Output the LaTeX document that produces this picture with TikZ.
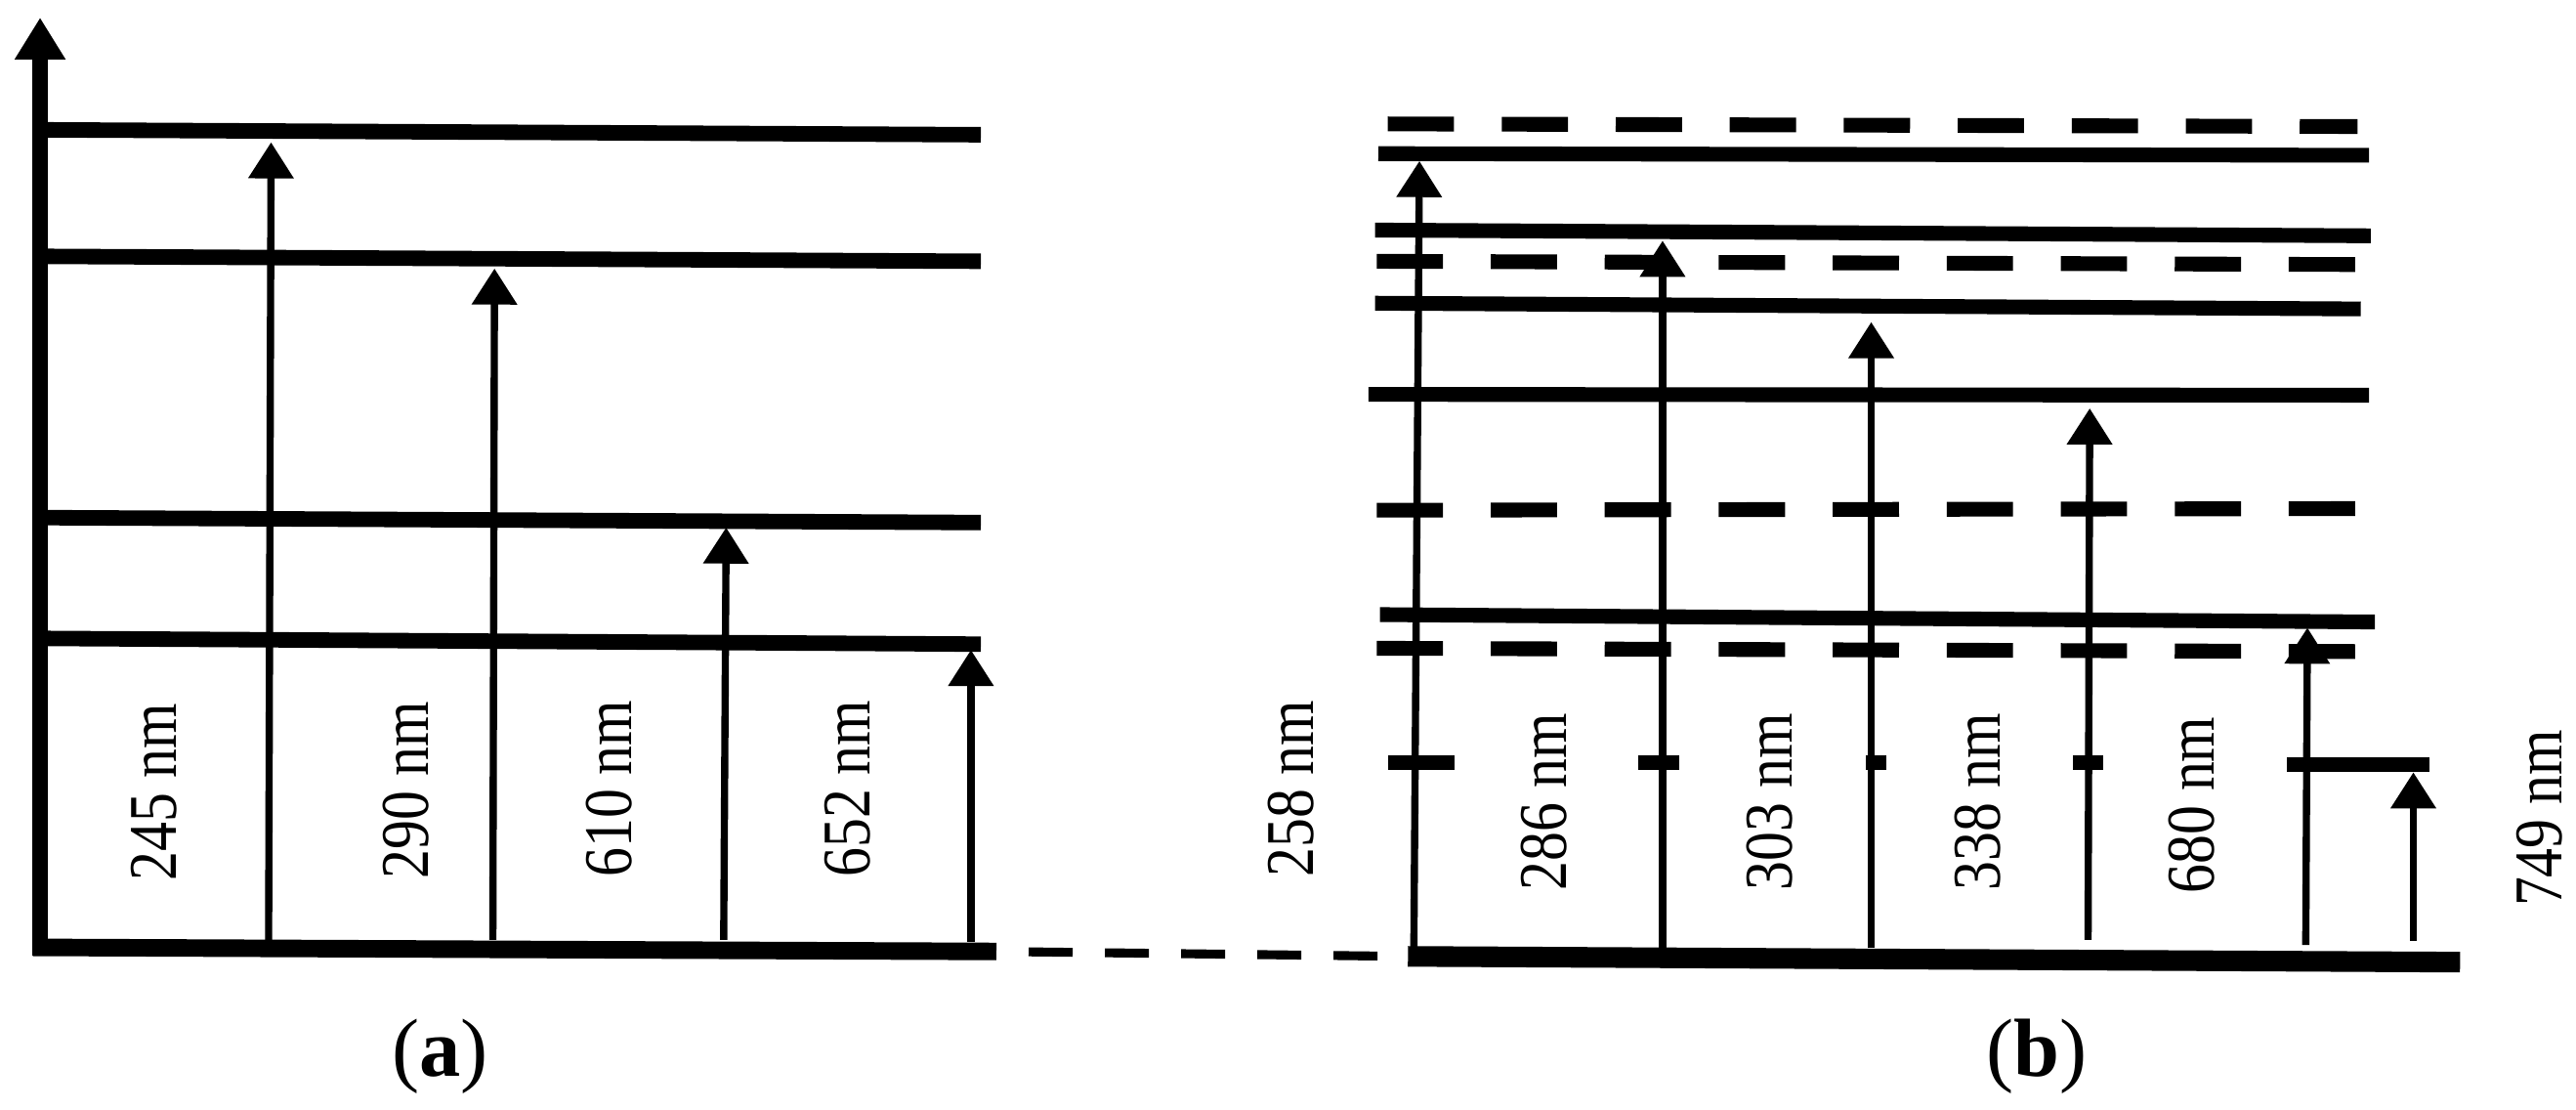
\documentclass[tikz,border=0pt]{standalone}
\usepackage{fontspec}
\setmainfont{Liberation Serif}
\usetikzlibrary{arrows.meta}
\begin{document}
\begin{tikzpicture}[x=0.016818cm,y=-0.016818cm,
  lvla/.style={line width=4.5pt},
  lvlb/.style={line width=4.3pt},
  dlvl/.style={line width=4.3pt, dash pattern=on 19.3pt off 13.9pt},
  gnda/.style={line width=5.1pt},
  gndb/.style={line width=6pt},
  link/.style={line width=2.6pt, dash pattern=on 12.8pt off 9.4pt, dash phase=12.8pt},
  axisline/.style={line width=4.7pt, -{Triangle[width=14pt,length=12.2pt]}},
  exc/.style={line width=2.1pt, -{Triangle[width=12.8pt,length=10.5pt]}},
  wl/.style={rotate=90, font=\fontsize{17}{17}\selectfont, inner sep=0pt},
  panellab/.style={font=\fontsize{24}{24}\selectfont, inner sep=0pt}]
\useasboundingbox (0,0) rectangle (1568,675);

% ---------- panel (a) ----------
\coordinate (ga0) at (20,576.5);
\coordinate (ga1) at (606.5,579);
\draw[gnda] (ga0) -- (ga1);
\coordinate (ax0) at (24.4,581.5);
\coordinate (ax1) at (24.4,10.7);
\draw[axisline] (ax0) -- (ax1);

\coordinate (a1l) at (27,79);    \coordinate (a1r) at (597,82);
\coordinate (a2l) at (27,156);   \coordinate (a2r) at (597,159);
\coordinate (a3l) at (27,315);   \coordinate (a3r) at (597,318);
\coordinate (a4l) at (27,388.5); \coordinate (a4r) at (597,392);
\draw[lvla] (a1l) -- (a1r);
\draw[lvla] (a2l) -- (a2r);
\draw[lvla] (a3l) -- (a3r);
\draw[lvla] (a4l) -- (a4r);

\coordinate (e245b) at (163.5,572); \coordinate (e245t) at (165,86.6);
\coordinate (e290b) at (300,572);   \coordinate (e290t) at (301,163.4);
\coordinate (e610b) at (440.5,572); \coordinate (e610t) at (442,321);
\coordinate (e652b) at (591,573);   \coordinate (e652t) at (591,395.5);
\draw[exc] (e245b) -- (e245t);
\draw[exc] (e290b) -- (e290t);
\draw[exc] (e610b) -- (e610t);
\draw[exc] (e652b) -- (e652t);

\node[wl] (l245) at (94,482) {\scalebox{1}[1.17]{245 nm}};
\node[wl] (l290) at (247,481) {\scalebox{1}[1.17]{290 nm}};
\node[wl] (l610) at (370.5,480) {\scalebox{1}[1.17]{610 nm}};
\node[wl] (l652) at (516,480) {\scalebox{1}[1.17]{652 nm}};

\node[panellab] (pa) at (268,643) {(\textbf{a})};

% ---------- link ----------
\coordinate (gb0) at (857,582);
\coordinate (gb1) at (1497.4,585.5);
\draw[link] (ga1) -- (gb0);

% ---------- panel (b) ----------
\draw[gndb] (gb0) -- (gb1);

\coordinate (d1l) at (844.7,75.4) ; \coordinate (d1r) at (1435,77);
\coordinate (s1l) at (839,93.5)   ; \coordinate (s1r) at (1442,94.5);
\coordinate (s2l) at (837,140)    ; \coordinate (s2r) at (1443,143.5);
\coordinate (d2l) at (838,159)    ; \coordinate (d2r) at (1437,161);
\coordinate (s3l) at (837,184.5)  ; \coordinate (s3r) at (1437,188);
\coordinate (s4l) at (833,240)    ; \coordinate (s4r) at (1442,240.5);
\coordinate (d3l) at (838,310.5)  ; \coordinate (d3r) at (1436,309.5);
\coordinate (s5l) at (840,374)    ; \coordinate (s5r) at (1445.6,378.5);
\coordinate (d4l) at (838,394.5)  ; \coordinate (d4r) at (1435.5,396.5);
\draw[dlvl] (d1l) -- (d1r);
\draw[lvlb] (s1l) -- (s1r);
\draw[lvlb] (s2l) -- (s2r);
\draw[dlvl] (d2l) -- (d2r);
\draw[lvlb] (s3l) -- (s3r);
\draw[lvlb] (s4l) -- (s4r);
\draw[dlvl] (d3l) -- (d3r);
\draw[lvlb] (s5l) -- (s5r);
\draw[dlvl] (d4l) -- (d4r);

\coordinate (m1l) at (845,464.3)  ; \coordinate (m1r) at (885.4,464.3);
\coordinate (m2l) at (997,464.3)  ; \coordinate (m2r) at (1022,464.3);
\coordinate (m3l) at (1136,464.3) ; \coordinate (m3r) at (1148,464.3);
\coordinate (m4l) at (1262,464.3) ; \coordinate (m4r) at (1280,464.3);
\coordinate (m5l) at (1392,465.5) ; \coordinate (m5r) at (1479,465.5);
\draw[lvlb] (m1l) -- (m1r);
\draw[lvlb] (m2l) -- (m2r);
\draw[lvlb] (m3l) -- (m3r);
\draw[lvlb] (m4l) -- (m4r);
\draw[lvlb] (m5l) -- (m5r);

\coordinate (f258b) at (860.6,577) ; \coordinate (f258t) at (864,98);
\coordinate (f286b) at (1012,577)  ; \coordinate (f286t) at (1012,146.5);
\coordinate (f303b) at (1139,577)  ; \coordinate (f303t) at (1139,196);
\coordinate (f338b) at (1271,572)  ; \coordinate (f338t) at (1272,248.5);
\coordinate (f680b) at (1403.5,575); \coordinate (f680t) at (1404.5,382);
\coordinate (f749b) at (1469,572.6); \coordinate (f749t) at (1469,470);
\draw[exc] (f258b) -- (f258t);
\draw[exc] (f286b) -- (f286t);
\draw[exc] (f303b) -- (f303t);
\draw[exc] (f338b) -- (f338t);
\draw[exc] (f680b) -- (f680t);
\draw[exc] (f749b) -- (f749t);

\node[wl] (l258) at (786,480) {\scalebox{1}[1.17]{258 nm}};
\node[wl] (l286) at (940,488) {\scalebox{1}[1.17]{286 nm}};
\node[wl] (l303) at (1077,488) {\scalebox{1}[1.17]{303 nm}};
\node[wl] (l338) at (1204,488) {\scalebox{1}[1.17]{338 nm}};
\node[wl] (l680) at (1334,490) {\scalebox{1}[1.17]{680 nm}};
\node[wl] (l749) at (1546,498) {\scalebox{1}[1.17]{749 nm}};

\node[panellab] (pb) at (1240,643) {(\textbf{b})};
\end{tikzpicture}
\end{document}
